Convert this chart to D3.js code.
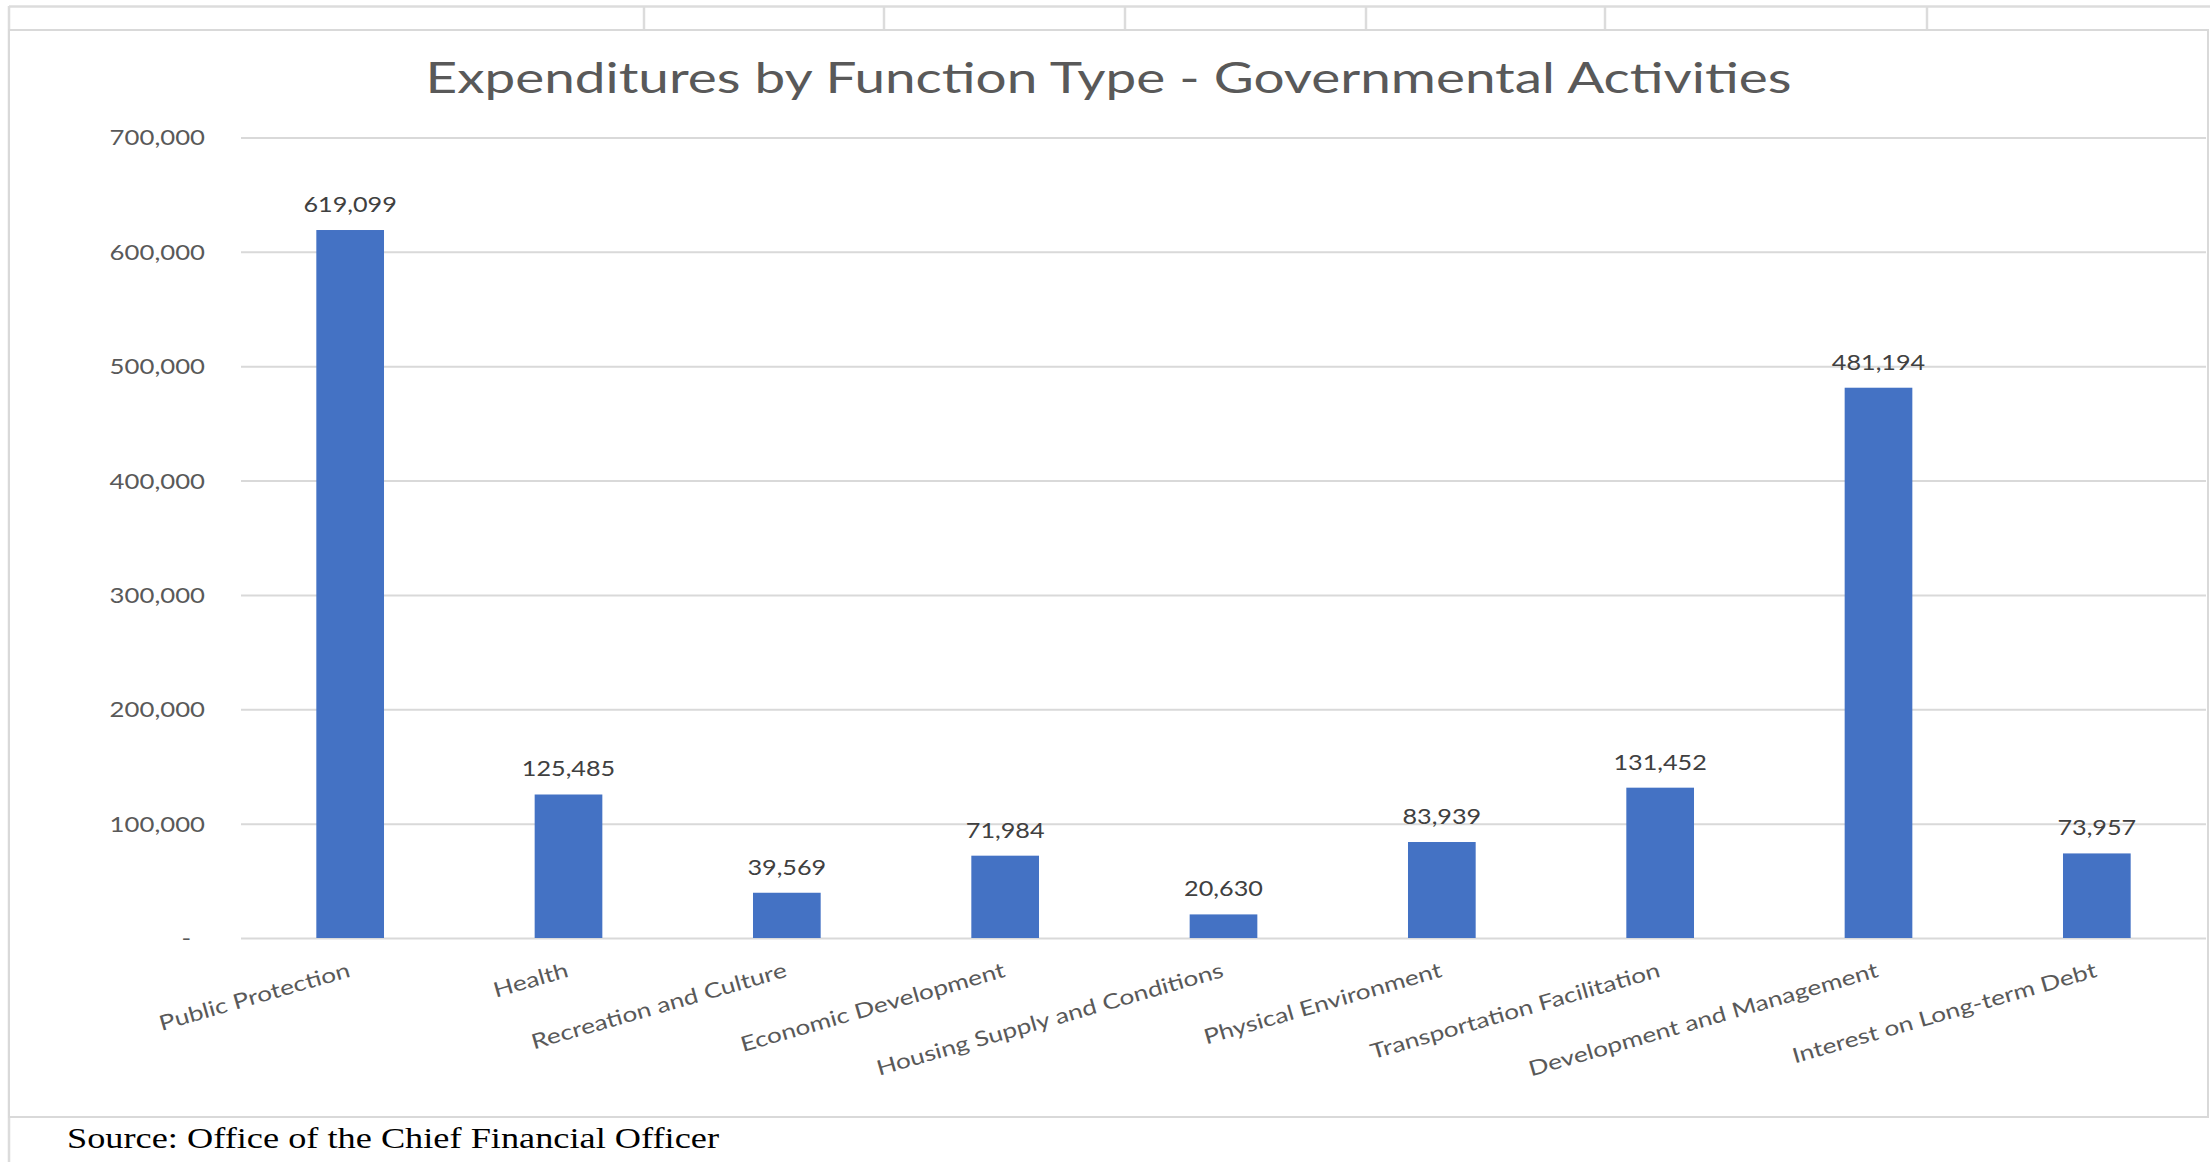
<!DOCTYPE html>
<html>
<head>
<meta charset="utf-8">
<script src="https://cdn.jsdelivr.net/npm/d3@7"></script>
<style>
  html, body { margin: 0; padding: 0; background: #ffffff; }
  svg { display: block; }
</style>
</head>
<body>
<svg id="chart" width="2210" height="1162"></svg>
<script>
// Chart data
const categories = [
  "Public Protection",
  "Health",
  "Recreation and Culture",
  "Economic Development",
  "Housing Supply and Conditions",
  "Physical Environment",
  "Transportation Facilitation",
  "Development and Management",
  "Interest on Long-term Debt"
];
const expenditures = [619099, 125485, 39569, 71984, 20630, 83939, 131452, 481194, 73957];
const yTickValues = [0, 100000, 200000, 300000, 400000, 500000, 600000, 700000];
const sheetColumnEdges = [644, 884, 1125, 1366, 1605, 1927];
const titleText = "Expenditures by Function Type - Governmental Activities";
const sourceText = "Source: Office of the Chief Financial Officer";

// Layout
const W = 2210, H = 1162;
const frame = { left: 9, right: 2208, top: 30, bottom: 1117 };
const plot = { left: 241, right: 2206, top: 137.5, bottom: 938 };
const barColor = "#4472C4";
const gridColor = "#d9d9d9";
const textColor = "#595959";
const labelFont = "Lato, 'Open Sans', sans-serif";

const svg = d3.select("#chart");

// Widen text horizontally to a given factor of its natural width
function stretch(sel, k) {
  sel.each(function () {
    const w = this.getComputedTextLength();
    this.setAttribute("textLength", (w * k).toFixed(1));
    this.setAttribute("lengthAdjust", "spacingAndGlyphs");
  });
}

// Worksheet cell lines around the chart object
const sheet = svg.append("g").attr("stroke", "#dcdcdc").attr("fill", "none");
sheet.append("line").attr("x1", frame.left).attr("x2", W).attr("y1", 6.5).attr("y2", 6.5).attr("stroke-width", 2.5);
sheet.append("line").attr("x1", frame.left).attr("x2", frame.left).attr("y1", 6).attr("y2", H).attr("stroke-width", 2.5);
sheet.selectAll("line.col").data(sheetColumnEdges).join("line")
  .attr("class", "col")
  .attr("x1", d => d).attr("x2", d => d)
  .attr("y1", 6).attr("y2", frame.top)
  .attr("stroke-width", 2.5);

// Chart area border
svg.append("rect")
  .attr("x", frame.left).attr("y", frame.top)
  .attr("width", frame.right - frame.left).attr("height", frame.bottom - frame.top)
  .attr("fill", "#ffffff").attr("stroke", "#d9d9d9").attr("stroke-width", 2);

// Scales
const x = d3.scaleBand()
  .domain(categories)
  .range([plot.left, plot.right])
  .paddingInner(0.69)
  .paddingOuter(0.345);

const y = d3.scaleLinear()
  .domain([0, 700000])
  .range([plot.bottom, plot.top]);

// Gridlines
const grid = svg.append("g")
  .attr("transform", `translate(${plot.left},0)`)
  .call(d3.axisLeft(y).tickValues(yTickValues).tickSize(-(plot.right - plot.left)).tickFormat(""));
grid.select(".domain").remove();
grid.selectAll(".tick line").attr("stroke", gridColor).attr("stroke-width", 2);

// Y axis labels
const yAxis = svg.append("g")
  .attr("transform", `translate(${plot.left},0)`)
  .call(d3.axisLeft(y).tickValues(yTickValues).tickSize(0).tickPadding(36)
    .tickFormat(d => d === 0 ? "-" : d3.format(",")(d)));
yAxis.select(".domain").remove();
yAxis.selectAll(".tick text")
  .attr("fill", textColor)
  .attr("font-family", labelFont)
  .attr("font-size", 22)
  .attr("dy", "0.34em")
  .attr("dx", d => d === 0 ? -14 : 0)
  .call(stretch, 1.17);

// Bars
const rows = categories.map((c, i) => ({ category: c, value: expenditures[i] }));
svg.append("g").selectAll("rect").data(rows).join("rect")
  .attr("x", d => x(d.category))
  .attr("y", d => y(d.value))
  .attr("width", x.bandwidth())
  .attr("height", d => y(0) - y(d.value))
  .attr("fill", barColor);

// Value labels above bars
svg.append("g").selectAll("text").data(rows).join("text")
  .attr("x", d => x(d.category) + x.bandwidth() / 2)
  .attr("y", d => y(d.value) - 18)
  .attr("text-anchor", "middle")
  .attr("fill", "#404040")
  .attr("font-family", labelFont)
  .attr("font-size", 21)
  .text(d => d3.format(",")(d.value))
  .call(stretch, 1.2);

// Category labels, slanted
const xAxis = svg.append("g")
  .attr("transform", `translate(0,${plot.bottom})`)
  .call(d3.axisBottom(x).tickSize(0).tickPadding(0));
xAxis.select(".domain").remove();
xAxis.selectAll(".tick text")
  .attr("fill", textColor)
  .attr("font-family", labelFont)
  .attr("font-size", 21)
  .attr("text-anchor", "end")
  .attr("x", -3)
  .attr("y", 24)
  .attr("dy", "0.72em")
  .attr("transform", null)
  .each(function () {
    d3.select(this).attr("transform", "rotate(-16,-3,24)");
  })
  .call(stretch, 1.25);

// Title
svg.append("text")
  .attr("x", (frame.left + frame.right) / 2)
  .attr("y", 93)
  .attr("text-anchor", "middle")
  .attr("fill", textColor)
  .attr("font-family", labelFont)
  .attr("font-size", 42)
  .attr("textLength", 1366)
  .attr("lengthAdjust", "spacingAndGlyphs")
  .text(titleText);

// Source note
svg.append("text")
  .attr("x", 67)
  .attr("y", 1148)
  .attr("fill", "#000000")
  .attr("font-family", "'Liberation Serif', 'Times New Roman', serif")
  .attr("font-size", 29)
  .attr("textLength", 652)
  .attr("lengthAdjust", "spacingAndGlyphs")
  .text(sourceText);
</script>
</body>
</html>
